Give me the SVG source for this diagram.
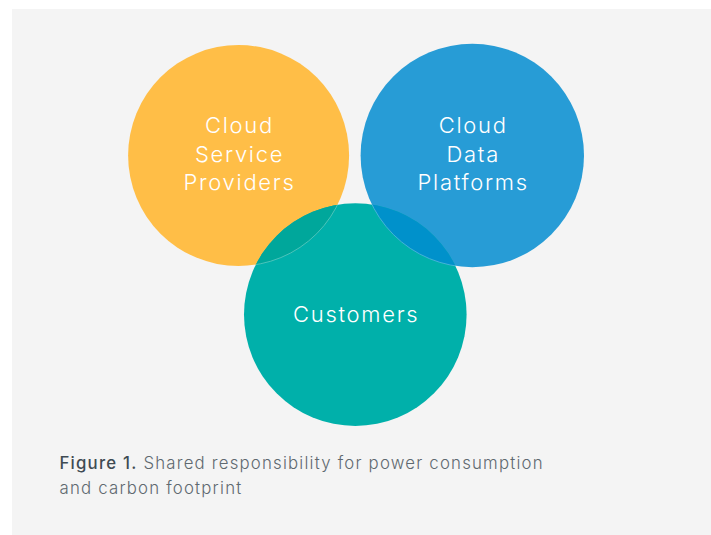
<svg xmlns="http://www.w3.org/2000/svg" width="711" height="535" viewBox="0 0 711 535">
<style>
.lbl{font-family:Inter,"Open Sans",Lato,sans-serif;font-weight:300;font-size:22px;letter-spacing:1.7px;fill:#ffffff;text-anchor:middle}
.cap{font-family:Inter,"Open Sans",Lato,sans-serif;font-weight:300;font-size:16.8px;letter-spacing:1.2px;fill:#5f6970}
.capb{font-weight:500;fill:#3f4b53}
</style>
<defs>
<clipPath id="clipTeal"><circle cx="355.3" cy="314.6" r="111.3"/></clipPath>
</defs>
<rect x="0" y="0" width="711" height="535" fill="#ffffff"/>
<rect x="12" y="9" width="699" height="526" fill="#f4f4f4"/>
<g id="csp">
<circle cx="238.6" cy="155.5" r="110.5" fill="#ffbe47"/>
</g>
<g id="cdp">
<circle cx="472.3" cy="155.5" r="111.7" fill="#279cd6"/>
</g>
<g id="customers">
<circle cx="355.3" cy="314.6" r="111.3" fill="#00b0aa"/>
</g>
<g id="overlaps" clip-path="url(#clipTeal)">
<circle cx="238.6" cy="155.5" r="110.5" fill="#00a79b" stroke="#5fc9c0" stroke-width="0.8"/>
<circle cx="472.3" cy="155.5" r="111.7" fill="#0091cb" stroke="#55b7e0" stroke-width="0.8"/>
</g>
<g id="labels">
<text class="lbl" x="239.5" y="133">Cloud</text>
<text class="lbl" x="239.5" y="161.5">Service</text>
<text class="lbl" x="239.5" y="190">Providers</text>
<text class="lbl" x="473.2" y="133">Cloud</text>
<text class="lbl" x="473.2" y="161.5">Data</text>
<text class="lbl" x="473.2" y="190">Platforms</text>
<text class="lbl" x="356.2" y="322">Customers</text>
</g>
<g id="caption">
<text class="cap" x="59.5" y="469"><tspan class="capb">Figure 1.</tspan> Shared responsibility for power consumption</text>
<text class="cap" x="59.5" y="493.5">and carbon footprint</text>
</g>
</svg>
